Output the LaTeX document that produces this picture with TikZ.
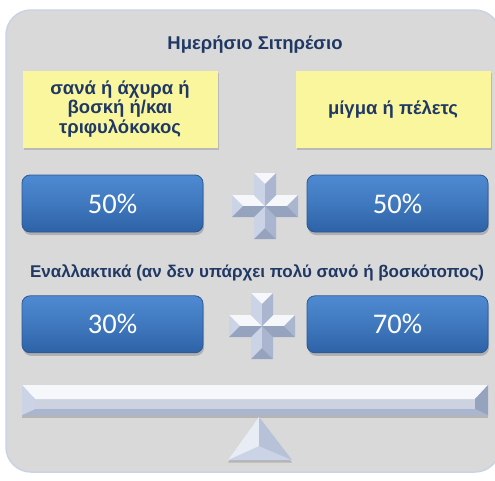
\documentclass[tikz,border=0pt]{standalone}
\usepackage{fontspec}
\setmainfont{Liberation Sans}
\newfontfamily\pctfont{Carlito}
\usetikzlibrary{positioning,shadows}

\definecolor{navy}{HTML}{1F3864}
\definecolor{paleyellow}{HTML}{FAF69E}
\definecolor{btntop}{HTML}{4E8AD2}
\definecolor{btnbot}{HTML}{2E62A6}
\definecolor{btnedge}{HTML}{2A5896}
\definecolor{panelgray}{HTML}{D9D9D9}
\definecolor{panelrim}{HTML}{C9D3E3}
\definecolor{steel1}{HTML}{F5F7FB}
\definecolor{steel2}{HTML}{CBD3E6}
\definecolor{steel3}{HTML}{AAB6CF}
\definecolor{steel4}{HTML}{96A3BE}
\definecolor{steelmid}{HTML}{CCD2DF}

\tikzset{
  feedbox/.style={fill=paleyellow, minimum width=195pt, minimum height=77pt,
    align=center, text=navy, font=\bfseries\fontsize{18.5}{19.5}\selectfont,
    drop shadow={opacity=0.35, shadow xshift=1.5pt, shadow yshift=-2.5pt}},
  pctbox/.style={rounded corners=8pt, draw=btnedge, line width=0.8pt,
    top color=btntop, bottom color=btnbot, middle color=btntop!55!btnbot,
    minimum width=181pt, minimum height=57pt, text=white,
    font=\pctfont\fontsize{28.5}{28.5}\selectfont,
    drop shadow={opacity=0.45, shadow xshift=1pt, shadow yshift=-3pt}},
  headtext/.style={text=navy, font=\bfseries\fontsize{18.5}{18.5}\selectfont},
  plusmark/.pic={
    % light facets
    \fill[steel1] (-11,-33) -- (11,-33) -- (0,-22) -- cycle;
    \fill[steel1] (11,-11) -- (33,-11) -- (22,0) -- (0,0) -- cycle;
    \fill[steel1] (-11,-11) -- (-33,-11) -- (-22,0) -- (0,0) -- cycle;
    \fill[steel2] (-11,-33) -- (0,-22) -- (0,0) -- (-11,-11) -- cycle;
    \fill[steel2] (-11,11) -- (-11,33) -- (0,22) -- (0,0) -- cycle;
    \fill[steel2] (-33,-11) -- (-33,11) -- (-22,0) -- cycle;
    % dark facets
    \fill[steel3] (11,-33) -- (0,-22) -- (0,0) -- (11,-11) -- cycle;
    \fill[steel3] (11,11) -- (11,33) -- (0,22) -- (0,0) -- cycle;
    \fill[steel3] (33,-11) -- (33,11) -- (22,0) -- cycle;
    \fill[steel4] (11,11) -- (33,11) -- (22,0) -- (0,0) -- cycle;
    \fill[steel4] (-11,11) -- (-33,11) -- (-22,0) -- (0,0) -- cycle;
    \fill[steel4] (-11,33) -- (11,33) -- (0,22) -- cycle;
  }
}

\begin{document}
\begin{tikzpicture}[x=1pt, y=-1pt]
	\useasboundingbox (0,0) rectangle (495,480);
	\clip (0,0) rectangle (495,480);

	%% background panel
	\draw[panelrim, line width=1.5pt, fill=panelgray, rounded corners=25pt]
		(6,10) rectangle (500,472);

	%% heading and feed groups
	\node[headtext](ration_title) at (255,45){Ημερήσιο Σιτηρέσιο};
	\node[feedbox](forage) at (120,109){σανά ή άχυρα ή\\βοσκή ή/και\\τριφυλόκοκος};
	\node[feedbox](concentrate) at (393,109){μίγμα ή πέλετς};

	%% standard proportions
	\node[pctbox](forage_std) at (112.5,203.5){50\%};
	\node[pctbox](conc_std) at (397.5,203.5){50\%};
	\pic at (265,206) {plusmark};

	%% alternative proportions
	\node[headtext, font=\bfseries\fontsize{17}{17}\selectfont](alt_note) at (257,273){Εναλλακτικά (αν δεν υπάρχει πολύ σανό ή βοσκότοπος)};
	\node[pctbox, below=63pt of forage_std](forage_alt){30\%};
	\node[pctbox, below=63pt of conc_std](conc_alt){70\%};
	\pic at (262,326) {plusmark};

	%% balance beam
	\path[fill=steelmid, drop shadow={opacity=0.4, shadow xshift=0pt, shadow yshift=-2.5pt}]
		(22,385) rectangle (488,415);
	\fill[steel1] (22,385) -- (488,385) -- (475,399) -- (35,399) -- cycle;
	\fill[steel3] (22,415) -- (488,415) -- (475,409) -- (35,409) -- cycle;
	\fill[steel2] (22,385) -- (35,399) -- (35,409) -- (22,415) -- cycle;
	\fill[steel4] (488,385) -- (475,399) -- (475,409) -- (488,415) -- cycle;

	%% pivot
	\path[fill=steel2, drop shadow={opacity=0.4, shadow xshift=0pt, shadow yshift=-2.5pt}]
		(259,417) -- (292,460) -- (228,460) -- cycle;
	\fill[steel1!70!steel2] (259,417) -- (228,460) -- (259,446) -- cycle;
	\fill[steel3!60!steel2] (259,417) -- (292,460) -- (259,446) -- cycle;
\end{tikzpicture}
\end{document}
